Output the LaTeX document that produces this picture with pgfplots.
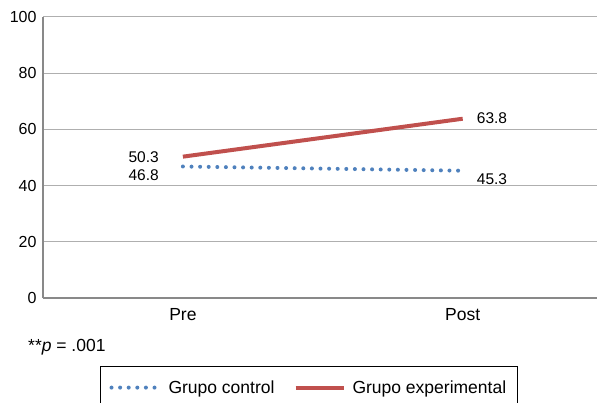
\documentclass[border=0pt]{standalone}
\usepackage{fontspec}
\setmainfont{Liberation Sans}
\usepackage{pgfplots}
\pgfplotsset{compat=1.18}
\definecolor{ctrlblue}{RGB}{79,129,189}
\definecolor{expred}{RGB}{192,80,77}
\definecolor{axgray}{RGB}{137,137,137}
\definecolor{gridgray}{RGB}{175,175,175}
\begin{document}
\begin{tikzpicture}[x=1bp,y=1bp,font=\fontsize{15.5bp}{18bp}\selectfont]
\useasboundingbox (0,0) rectangle (597,402);
\begin{axis}[
  at={(43bp,104bp)}, anchor=south west,
  scale only axis, width=554bp, height=281bp,
  xmin=-0.5, xmax=1.48, ymin=0, ymax=100,
  axis x line=bottom, axis y line=left,
  axis line style={draw=axgray, line width=1.6bp, -},
  xtick={0,1}, xticklabels={Pre,Post},
  ytick={0,20,40,60,80,100},
  major tick length=0pt,
  ymajorgrids, grid style={gridgray, line width=1bp},
  /pgf/number format/assume math mode=true,
  xticklabel style={yshift=-7bp, font=\fontsize{17.5bp}{20bp}\selectfont},
  yticklabel style={xshift=-3bp, font=\fontsize{16bp}{18bp}\selectfont},
  legend columns=2,
  legend style={at={(0.1029,-0.242)}, anchor=north west, draw=black, line width=1bp,
    inner xsep=9bp, inner ysep=12bp,
    font=\fontsize{17.5bp}{20bp}\selectfont,
    /tikz/every odd column/.append style={column sep=5bp},
    /tikz/every even column/.append style={column sep=17bp}},
  legend image code/.code={\draw[#1] (0bp,0bp) -- (48bp,0bp);},
  clip=true,
]
\addplot[ctrlblue, line width=4bp, line cap=round, dash pattern=on 0bp off 8.6bp]
  coordinates {(0,46.8) (1,45.3)};
\addlegendentry{Grupo control}
\addplot[expred, line width=4bp]
  coordinates {(0,50.3) (1,63.8)};
\addlegendentry{Grupo experimental}
\node[anchor=east, inner sep=0pt, xshift=-24bp, yshift=-1bp] at (axis cs:0,50.3) {50.3};
\node[anchor=east, inner sep=0pt, xshift=-24bp, yshift=-8.5bp] at (axis cs:0,46.8) {46.8};
\node[anchor=west, inner sep=0pt, xshift=14bp, yshift=1bp] at (axis cs:1,63.8) {63.8};
\node[anchor=west, inner sep=0pt, xshift=14bp, yshift=-8bp] at (axis cs:1,45.3) {45.3};
\end{axis}
\node[anchor=base west, inner sep=0pt, font=\fontsize{17.5bp}{20bp}\selectfont] at (28,51) {**\textit{p} = .001};
\end{tikzpicture}
\end{document}
